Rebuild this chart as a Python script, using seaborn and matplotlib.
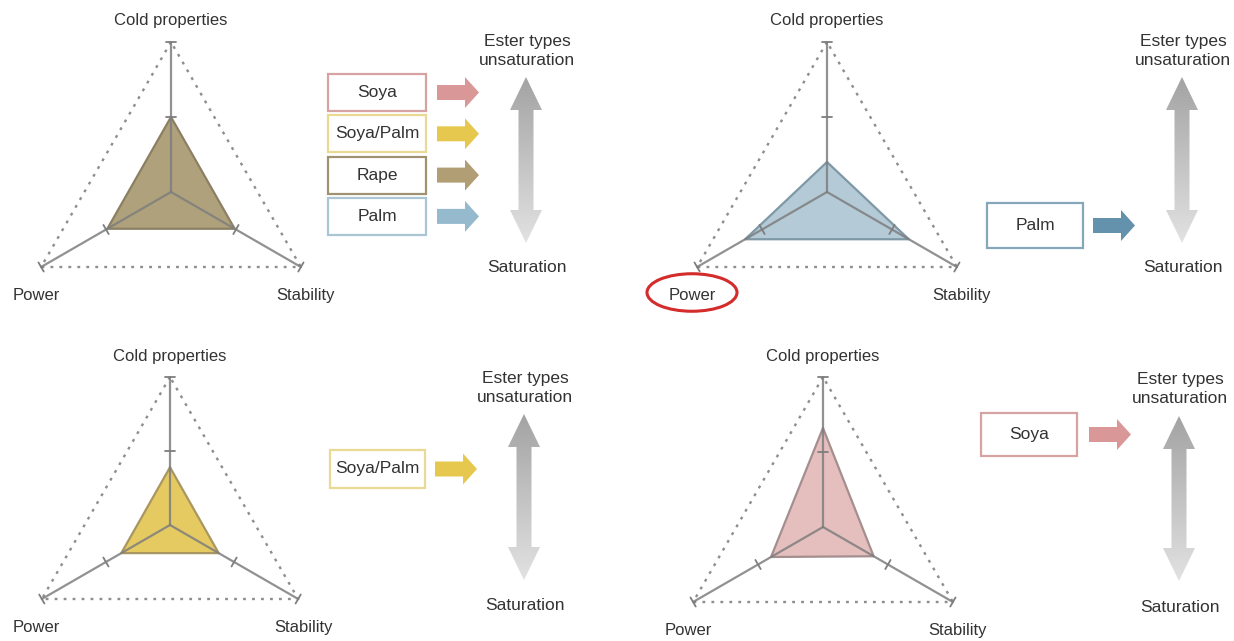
import numpy as np
import matplotlib
matplotlib.use("Agg")
import matplotlib.pyplot as plt
import seaborn as sns
from matplotlib.patches import Rectangle, FancyArrow, Polygon, Ellipse
from matplotlib.colors import LinearSegmentedColormap

sns.set_theme(style="white")
plt.rcParams['font.family'] = ['Liberation Sans', 'DejaVu Sans']

# ---------------- data ----------------
axis_labels = ["Cold properties", "Power", "Stability"]
axis_angles = [90, 210, 330]
oils = ["Soya", "Soya/Palm", "Rape", "Palm"]
soya = [0.66, 0.40, 0.39]
soya_palm = [0.39, 0.38, 0.38]
rape = [0.50, 0.49, 0.49]
palm = [0.20, 0.63, 0.63]
tick_levels = [0.5, 1.0]
scale_top = "Ester types\nunsaturation"
scale_bottom = "Saturation"
highlight_label = "Power"

fill_colors = {"Soya": "#e4bcbb", "Soya/Palm": "#e4c759", "Rape": "#aa9c74", "Palm": "#b0c9d5"}
edge_colors = {"Soya": "#a58e8e", "Soya/Palm": "#a99660", "Rape": "#8b8064", "Palm": "#7f98a6"}
box_colors = {"Soya": "#d6a2a2", "Soya/Palm": "#e9d993", "Rape": "#9e9270", "Palm": "#a9c6d2"}
arrow_colors = {"Soya": "#d99897", "Soya/Palm": "#e6c84e", "Rape": "#b29e74", "Palm": "#95bacd"}

W, H = 1234, 641
TXT = "#333333"

# ---------------- layout ----------------
panels = [
    dict(name="Rape", values=rape, center=(171, 192), R=150, legend=oils,
         box=(328, 74, 98, 37, 41.3), arrow_x=437, dbl=(526, 77, 243),
         top_y=51, sat_y=268, box_edge=None, arrow_col=None),
    dict(name="Palm", values=palm, center=(827, 192), R=150, legend=["Palm"],
         box=(987, 203, 96, 45, 0), arrow_x=1093, dbl=(1182, 77, 243),
         top_y=51, sat_y=268, box_edge="#86a6ba", arrow_col="#6491ab"),
    dict(name="Soya/Palm", values=soya_palm, center=(170, 525), R=148, legend=["Soya/Palm"],
         box=(330, 450, 95, 38, 0), arrow_x=435, dbl=(524, 414, 580),
         top_y=388, sat_y=606, box_edge=None, arrow_col=None),
    dict(name="Soya", values=soya, center=(823, 527), R=150, legend=["Soya"],
         box=(981, 413, 96, 43, 0), arrow_x=1089, dbl=(1179, 416, 581),
         top_y=389, sat_y=607, box_edge=None, arrow_col=None),
]

fig = plt.figure(figsize=(W / 100, H / 100), dpi=100)
fig.patch.set_facecolor("white")

# overlay axes in pixel coordinates for annotation shapes
ov = fig.add_axes([0, 0, 1, 1])
ov.set_xlim(0, W)
ov.set_ylim(H, 0)
ov.axis("off")

cmap = LinearSegmentedColormap.from_list("g", ["#a3a3a3", "#e2e2e2"])


def dbl_arrow(ax, cx, ytop, ybot, sw=7.5, hw=16, hl=33):
    verts = [(cx, ytop), (cx + hw, ytop + hl), (cx + sw, ytop + hl), (cx + sw, ybot - hl),
             (cx + hw, ybot - hl), (cx, ybot), (cx - hw, ybot - hl), (cx - sw, ybot - hl),
             (cx - sw, ytop + hl), (cx - hw, ytop + hl)]
    poly = Polygon(verts, closed=True, facecolor="none", edgecolor="none")
    ax.add_patch(poly)
    grad = np.linspace(0, 1, 256).reshape(-1, 1)
    im = ax.imshow(grad, cmap=cmap, extent=[cx - hw, cx + hw, ybot, ytop],
                   origin="upper", aspect="auto", zorder=1)
    im.set_clip_path(poly)


for p in panels:
    # legend boxes and arrows
    bx, by, bw, bh, gap = p["box"]
    for i, oil in enumerate(p["legend"]):
        y0 = by + i * gap
        ec = p["box_edge"] or box_colors[oil]
        ov.add_patch(Rectangle((bx, y0), bw, bh, facecolor="white", edgecolor=ec, lw=1.6, zorder=2))
        ov.text(bx + bw / 2, y0 + bh / 2, oil, ha="center", va="center", fontsize=12.5, color=TXT, zorder=3)
        ac = p["arrow_col"] or arrow_colors[oil]
        ov.add_patch(FancyArrow(p["arrow_x"], y0 + bh / 2, 42, 0, width=15, head_width=31,
                                head_length=14, length_includes_head=True, color=ac, lw=0, zorder=2))
    cx, yt, yb = p["dbl"]
    dbl_arrow(ov, cx, yt, yb)
    ov.text(cx + 1, p["top_y"], scale_top, ha="center", va="center", fontsize=12.5,
            color=TXT, linespacing=1.3)
    ov.text(cx + 1, p["sat_y"], scale_bottom, ha="center", va="center", fontsize=12.5, color=TXT)

    # radar axes
    pcx, pcy = p["center"]
    R = p["R"]
    L = 1.3
    half = L * R
    ax = fig.add_axes([(pcx - half) / W, (H - pcy - half) / H, 2 * half / W, 2 * half / H])
    ax.set_xlim(-L, L)
    ax.set_ylim(-L, L)
    ax.axis("off")
    ax.patch.set_alpha(0)

    ang = np.deg2rad(axis_angles)
    cos, sin = np.cos(ang), np.sin(ang)

    # outer dotted triangle
    sns.lineplot(x=list(np.append(cos, cos[0])), y=list(np.append(sin, sin[0])), ax=ax,
                 sort=False, estimator=None, color="#8e8e8e", lw=1.7,
                 linestyle=(0, (1.2, 2.6)), zorder=1)

    vals = np.array(p["values"])
    vx, vy = vals * cos, vals * sin
    ax.fill(vx, vy, color=fill_colors[p["name"]], alpha=0.95, lw=0, zorder=2)
    sns.lineplot(x=list(np.append(vx, vx[0])), y=list(np.append(vy, vy[0])), ax=ax,
                 sort=False, estimator=None, color=edge_colors[p["name"]], lw=1.6, zorder=3)

    # spokes + ticks
    for c, s in zip(cos, sin):
        sns.lineplot(x=[0, c], y=[0, s], ax=ax, sort=False, estimator=None,
                     color="#7e7e7e", alpha=0.85, lw=1.6, zorder=4)
        for t in tick_levels:
            px, py = t * c, t * s
            dx, dy = -s * 0.035, c * 0.035
            ax.plot([px - dx, px + dx], [py - dy, py + dy], color="#7e7e7e", lw=1.3, zorder=4)

    # axis labels
    ax.text(0, 1.14, axis_labels[0], ha="center", va="center", fontsize=12, color=TXT)
    ax.text(-0.9, -0.69, axis_labels[1], ha="center", va="center", fontsize=12, color=TXT)
    ax.text(0.9, -0.69, axis_labels[2], ha="center", va="center", fontsize=12, color=TXT)
    if p["name"] == "Palm":
        ax.add_patch(Ellipse((-0.9, -0.67), 0.6, 0.25, fill=False, edgecolor="#d42b2b", lw=2.2, zorder=5))

fig.savefig("out.png", dpi=100, facecolor="white")
